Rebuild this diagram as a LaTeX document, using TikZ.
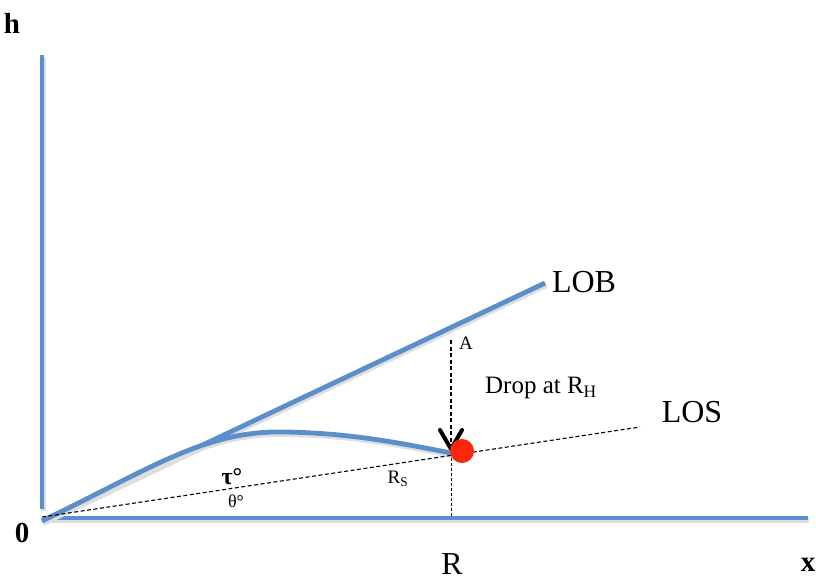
\documentclass[tikz,border=0pt]{standalone}
\usepackage{fontspec}
\setmainfont{Liberation Serif}
\definecolor{axblue}{RGB}{91,143,204}
\definecolor{dotred}{RGB}{250,40,10}
\tikzset{
  shadowed/.style={preaction={draw=black!13, line width=5pt, transform canvas={shift={(1.2pt,-2.4pt)}}}},
  blueline/.style={draw=axblue, line width=4.8pt, shadowed},
  dashline/.style={draw=black, dash pattern=on 4pt off 2.5pt, line width=1.1pt},
  thindash/.style={draw=black, dash pattern=on 3pt off 2pt, line width=0.9pt},
  arrowhead/.style={draw=black, line width=4pt, line cap=round, line join=round},
  bigtxt/.style={font=\fontsize{32}{34}\selectfont, inner sep=0pt},
  midtxt/.style={font=\fontsize{25}{28}\selectfont, inner sep=0pt},
  smalltxt/.style={font=\fontsize{18}{20}\selectfont, inner sep=0pt},
  axtxt/.style={font=\fontsize{29}{32}\selectfont\bfseries, inner sep=0pt},
}
\begin{document}
\begin{tikzpicture}[x=1pt,y=-1pt]
\useasboundingbox (0,0) rectangle (816,580);
% coordinates
\coordinate (vtop) at (42,55);
\coordinate (vbot) at (42,509);
\coordinate (hl) at (44,518);
\coordinate (hr) at (808,518);
\coordinate (O) at (42,521);
\coordinate (lobend) at (545,283);
\coordinate (loso) at (42,517);
\coordinate (losend) at (640,427);
\coordinate (peak) at (285,432);
\coordinate (hit) at (451,453);
\coordinate (Atop) at (451,340);
\coordinate (Rfoot) at (451,518);
\coordinate (tip) at (451,449);
\coordinate (barbL) at (440,430);
\coordinate (barbR) at (462,430);
% axes
\draw[blueline] (vtop) -- (vbot);
\draw[blueline] (hl) -- (hr);
% LOB
\draw[blueline] (O) -- (lobend);
% trajectory
\draw[blueline] (O) .. controls (150,469) and (205,430) .. (peak)
  .. controls (350,433) and (400,443) .. (hit);
% LOS
\draw[dashline] (loso) -- (losend);
% dotted foot
\draw[thindash] (hit) -- (Rfoot);
% drop arrow
\draw[dashline, line width=2pt] (Atop) -- (tip);
\draw[arrowhead] (barbL) -- (tip) -- (barbR);
% red dot
\fill[dotred] (462,451) circle (12);
\node[inner sep=0pt, minimum size=24pt] (dot) at (462,451) {};
% labels
\node[axtxt] (hlab) at (12,23) {h};
\node[axtxt] (zlab) at (22,533) {0};
\node[axtxt] (xlab) at (808,565) {x};
\node[bigtxt] (Rlab) at (452,564) {R};
\node[bigtxt] (loblab) at (584,282) {LOB};
\node[bigtxt] (loslab) at (692,412) {LOS};
\node[font=\fontsize{19}{21}\selectfont, inner sep=0pt] (alab) at (466,343) {A};
\node[midtxt] (droplab) at (541,388) {Drop at R\textsubscript{H}};
\node[font=\fontsize{24}{26}\selectfont\bfseries, inner sep=0pt] (taulab) at (232,477) {τ°};
\node[smalltxt] (thlab) at (236,501) {θ°};
\node[font=\fontsize{19}{21}\selectfont, inner sep=0pt] (rslab) at (398,479) {R\textsubscript{S}};
\end{tikzpicture}
\end{document}
